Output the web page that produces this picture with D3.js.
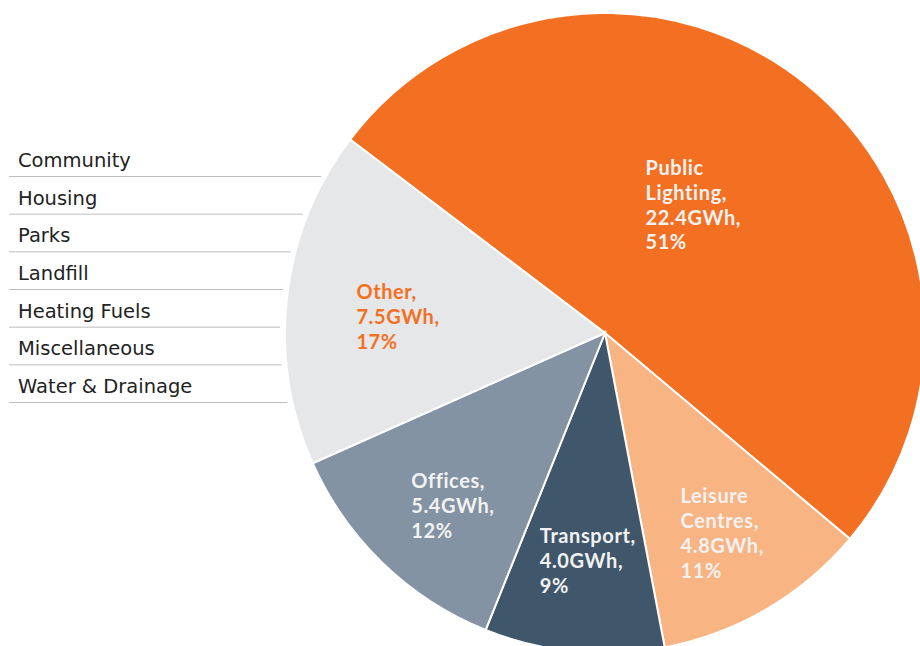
<!DOCTYPE html>
<html>
<head>
<meta charset="utf-8">
<script src="https://cdn.jsdelivr.net/npm/d3@7"></script>
<style>
  body { margin: 0; background: #fff; }
</style>
</head>
<body>
<div id="chart"></div>
<script>
// slices, clockwise from the upper-left
var categories = ["Public Lighting", "Leisure Centres", "Transport", "Offices", "Other"];
var energyGWh = [22.4, 4.8, 4.0, 5.4, 7.5];
var shares = ["51%", "11%", "9%", "12%", "17%"];
var nameLines = [["Public", "Lighting,"], ["Leisure", "Centres,"], ["Transport,"], ["Offices,"], ["Other,"]];
// what "Other" is made of (list on the left)
var otherItems = ["Community", "Housing", "Parks", "Landfill", "Heating Fuels", "Miscellaneous", "Water & Drainage"];

function init() {
    var w = 920, h = 646;
    var cx = 605, cy = 333, r = 320;
    var colors = ["#f37022", "#f8b482", "#40576b", "#8393a3", "#e6e7e9"];
    var labelColors = ["#f2f2f2", "#f2f2f2", "#f2f2f2", "#f2f2f2", "#f37022"];
    var labelK = [0.49, 0.73, 0.72, 0.73, 0.655]; // how far out each label sits
    var labelNudge = [[-9, -6], [0, 0], [5, 0], [9, 6], [0, 8]];
    var start = -52.8 * Math.PI / 180;

    var data = categories.map(function(c, i) {
        return { name: c, value: energyGWh[i], share: shares[i], lines: nameLines[i] };
    });

    var svg = d3.select("#chart")
                .append("svg")
                .attr("width", w)
                .attr("height", h);

    svg.append("clipPath").attr("id", "clip")
        .append("rect").attr("x", 0).attr("y", 14).attr("width", w).attr("height", h - 14);

    var pie = d3.pie().sort(null).value(function(d) { return d.value; })
        .startAngle(start).endAngle(start + 2 * Math.PI);
    var arc = d3.arc().innerRadius(0).outerRadius(r);

    var g = svg.append("g").attr("clip-path", "url(#clip)")
        .append("g").attr("transform", "translate(" + cx + "," + cy + ")");

    var arcs = pie(data);

    g.selectAll("path")
        .data(arcs)
        .enter()
        .append("path")
        .attr("d", arc)
        .attr("fill", function(d, i) { return colors[i]; })
        .attr("stroke", "#fff")
        .attr("stroke-width", 2);

    // slice labels, left aligned block centred on a point along the mid angle
    arcs.forEach(function(d, i) {
        var mid = (d.startAngle + d.endAngle) / 2;
        var px = Math.sin(mid) * 318 * labelK[i] + labelNudge[i][0];
        var py = -Math.cos(mid) * 318 * labelK[i] + labelNudge[i][1];
        var lines = d.data.lines.concat([d.data.value.toFixed(1) + "GWh,", d.data.share]);
        var lh = 24.8;
        var t = g.append("text")
            .attr("fill", labelColors[i])
            .attr("font-family", "Lato, sans-serif")
            .attr("font-size", "20px")
            .attr("font-weight", "bold")
            .attr("letter-spacing", "0.6px");
        lines.forEach(function(l, j) {
            t.append("tspan")
                .attr("x", 0)
                .attr("y", py + (j - (lines.length - 1) / 2) * lh)
                .attr("dy", "0.35em")
                .text(l);
        });
        var bw = t.node().getBBox().width;
        t.selectAll("tspan").attr("x", px - bw / 2);
    });

    // list of items inside "Other"
    var rowY = d3.scaleLinear().domain([0, otherItems.length - 1]).range([176, 402]);
    var legend = svg.append("g");
    otherItems.forEach(function(name, i) {
        var y = rowY(i);
        var edge = cx - Math.sqrt(r * r - (y - cy) * (y - cy)) - 5;
        legend.append("line")
            .attr("x1", 9).attr("x2", edge)
            .attr("y1", y + 0.5).attr("y2", y + 0.5)
            .attr("stroke", "#bdbdbd")
            .attr("stroke-width", 1);
        legend.append("text")
            .attr("x", 18)
            .attr("y", y - 9)
            .attr("font-family", "'DejaVu Sans', sans-serif")
            .attr("font-size", "19.5px")
            .attr("fill", "#222")
            .text(name);
    });
}
window.onload = init;
</script>
</body>
</html>
